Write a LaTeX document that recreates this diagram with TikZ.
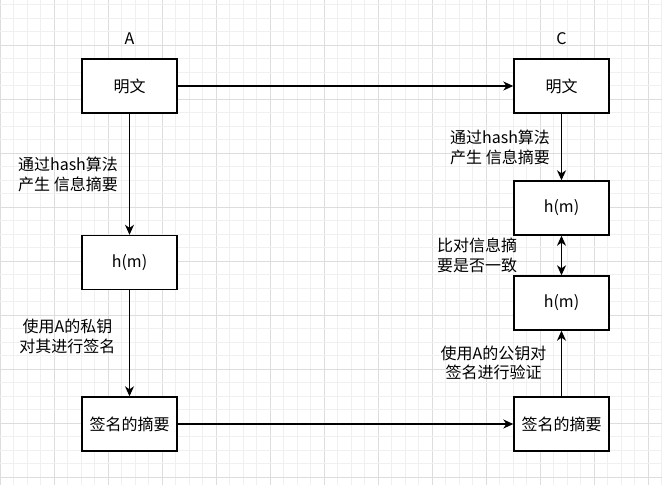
\documentclass[tikz,border=0pt]{standalone}
\usepackage{fontspec}
\setmainfont{Noto Sans CJK SC}
\usetikzlibrary{arrows.meta}
\definecolor{gridminor}{HTML}{F0F0F0}
\definecolor{gridmajor}{HTML}{DDDDDD}
\tikzset{
  arw/.tip={Stealth[length=10pt,width=9pt,inset=3pt]},
  blk/.style={draw, line width=1.4pt, fill=white, minimum width=95pt, minimum height=54pt, inner sep=0pt},
  note/.style={align=center, inner sep=0pt},
  link/.style={line width=1.4pt, -arw},
}

\begin{document}
\begin{tikzpicture}[x=1pt,y=-1pt,font=\fontsize{16}{19.5}\selectfont]
\def\cs{13.5}
\useasboundingbox[fill=white] (0,0) rectangle (662,485);

% background grid
\foreach \k in {0,...,49} {
  \pgfmathparse{mod(\k,4)==0 ? "gridmajor" : "gridminor"}
  \draw[\pgfmathresult, line width=0.8pt] (\k*\cs,0) -- (\k*\cs,485);
}
\foreach \k in {0,...,35} {
  \pgfmathparse{mod(\k,4)==3 ? "gridmajor" : "gridminor"}
  \draw[\pgfmathresult, line width=0.8pt] (0,4.8+\k*\cs) -- (662,4.8+\k*\cs);
}

% column A
\node (nameA) at (129.5,39) {A};
\node[blk] (plainA) at (129.5,86) {明文};
\node[blk] (hashA) at (129.5,262.5) {h(m)};
\node[blk] (signA) at (129.5,424) {签名的摘要};

% column C
\node (nameC) at (561.5,39) {C};
\node[blk] (plainC) at (561.5,86) {明文};
\node[blk] (hashC) at (561.5,208) {h(m)};
\node[blk] (checkC) at (561.5,303) {h(m)};
\node[blk] (signC) at (561.5,424) {签名的摘要};

% labels
\node[note] (hashtxtA) at (68,174.5) {通过hash算法\\产生 信息摘要};
\node[note] (signtxtA) at (67.5,336.5) {使用A的私钥\\对其进行签名};
\node[note] (hashtxtC) at (500,147.5) {通过hash算法\\产生 信息摘要};
\node[note] (cmptxtC) at (477,255.5) {比对信息摘\\要是否一致};
\node[note] (vertxtC) at (493.5,363) {使用A的公钥对\\签名进行验证};

% connectors
\draw[link] (plainA) -- (plainC);
\draw[link] (plainA) -- (hashA);
\draw[link] (hashA) -- (signA);
\draw[link] (signA) -- (signC);
\draw[link] (plainC) -- (hashC);
\draw[link, arw-arw] (hashC) -- (checkC);
\draw[link] (signC) -- (checkC);
\end{tikzpicture}
\end{document}
